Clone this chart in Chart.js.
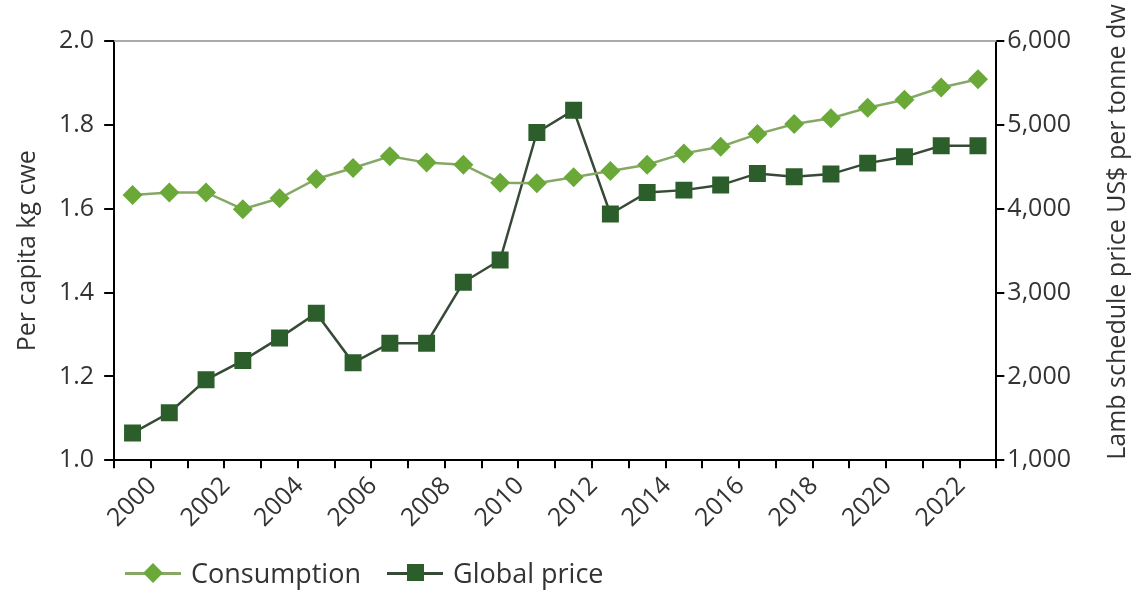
<!DOCTYPE html>
<html lang="en">
<head>
<meta charset="UTF-8">
<title>Lamb consumption and global price</title>
<style>
    body { margin: 0; background: #fff; font-family: "Open Sans", sans-serif; }
    .wrap { position: relative; width: 1134px; height: 593px; }
    #legend {
        position: absolute; left: 125px; top: 554px;
        display: flex; align-items: center;
        font-size: 27px; color: #333;
    }
    .item { display: flex; align-items: center; margin-right: 26px; }
    .icon { position: relative; width: 56px; height: 24px; margin-right: 10px; }
    .icon .ln { position: absolute; left: 0; right: 0; top: 11px; height: 3px; }
    .icon .mk { position: absolute; left: 50%; top: 50%; }
    .diamond { width: 14px; height: 14px; margin: -7px 0 0 -7px; transform: rotate(45deg); }
    .square { width: 17px; height: 17px; margin: -8.5px 0 0 -8.5px; }
</style>
<script src="https://cdn.jsdelivr.net/npm/chart.js"></script>
</head>
<body>
<div class="wrap">
    <canvas id="chart" width="1134" height="593"></canvas>
    <div id="legend"></div>
</div>
<script>
    const years = ['2000','2001','2002','2003','2004','2005','2006','2007','2008','2009','2010','2011',
                   '2012','2013','2014','2015','2016','2017','2018','2019','2020','2021','2022','2023'];
    // per capita kg cwe (left axis)
    const consumption = [1.633,1.639,1.639,1.599,1.625,1.671,1.697,1.725,1.710,1.705,1.662,1.661,
                         1.675,1.690,1.705,1.732,1.748,1.778,1.802,1.816,1.841,1.860,1.889,1.909];
    // lamb schedule price US$ per tonne dw (right axis)
    const globalPrice = [1325,1567,1960,2190,2460,2754,2163,2397,2397,3123,3389,4909,
                         5175,3937,4194,4222,4282,4421,4381,4413,4544,4619,4750,4750];

    const seriesNames = ['Consumption', 'Global price'];
    const leftTitle = 'Per capita kg cwe';
    const rightTitle = 'Lamb schedule price US$ per tonne dw';

    const lightGreen = '#6aa838';
    const lightLine = '#86a866';
    const darkGreen = '#2b5e2b';
    const darkLine = '#374a37';
    const textColor = '#333333';
    const font = { family: '"Open Sans", sans-serif', size: 25 };

    // top frame line + right title reading bottom-to-top
    const extras = {
        id: 'extras',
        afterDraw(chart) {
            const { ctx, chartArea } = chart;
            ctx.save();
            ctx.strokeStyle = '#aaaaaa';
            ctx.lineWidth = 2;
            ctx.beginPath();
            ctx.moveTo(chartArea.left, chartArea.top);
            ctx.lineTo(chartArea.right, chartArea.top);
            ctx.stroke();

            ctx.translate(1118, 232);
            ctx.rotate(-Math.PI / 2);
            ctx.fillStyle = textColor;
            ctx.font = '25px "Open Sans", sans-serif';
            ctx.textAlign = 'center';
            ctx.textBaseline = 'middle';
            ctx.fillText(rightTitle, 0, 0);
            ctx.restore();
        }
    };

    new Chart(document.getElementById('chart'), {
        type: 'line',
        data: {
            labels: years,
            datasets: [
                {
                    label: seriesNames[0],
                    data: consumption,
                    yAxisID: 'y',
                    borderColor: lightLine,
                    borderWidth: 2.5,
                    pointStyle: 'rectRot',
                    pointRadius: 10,
                    pointBackgroundColor: lightGreen,
                    pointBorderColor: lightGreen,
                    pointBorderWidth: 0,
                    tension: 0
                },
                {
                    label: seriesNames[1],
                    data: globalPrice,
                    yAxisID: 'y1',
                    borderColor: darkLine,
                    borderWidth: 2.5,
                    pointStyle: 'rect',
                    pointRadius: 12,
                    pointBackgroundColor: darkGreen,
                    pointBorderColor: darkGreen,
                    pointBorderWidth: 0,
                    tension: 0
                }
            ]
        },
        options: {
            responsive: false,
            animation: false,
            layout: { padding: { left: 13, right: 60, top: 41, bottom: 57 } },
            plugins: {
                legend: { display: false },
                tooltip: { enabled: false }
            },
            scales: {
                x: {
                    offset: true,
                    grid: { offset: true, drawOnChartArea: false, color: '#000', tickLength: 8, lineWidth: 2 },
                    border: { color: '#000', width: 2 },
                    ticks: {
                        autoSkip: false,
                        minRotation: 45,
                        maxRotation: 45,
                        labelOffset: 20,
                        color: textColor,
                        font: font,
                        callback: (v, i) => i % 2 === 0 ? years[i] : ''
                    }
                },
                y: {
                    position: 'left',
                    min: 1.0,
                    max: 2.0,
                    grid: { drawOnChartArea: false, color: '#000', tickLength: 10, lineWidth: 2 },
                    border: { color: '#000', width: 2 },
                    ticks: {
                        stepSize: 0.2,
                        padding: 10,
                        color: textColor,
                        font: font,
                        callback: v => v.toFixed(1)
                    },
                    title: { display: true, text: leftTitle, color: textColor, font: font, padding: { top: 0, bottom: 6 } }
                },
                y1: {
                    position: 'right',
                    min: 1000,
                    max: 6000,
                    grid: { drawOnChartArea: false, color: '#000', tickLength: 8, lineWidth: 2 },
                    border: { color: '#000', width: 2 },
                    ticks: {
                        stepSize: 1000,
                        padding: 3,
                        color: textColor,
                        font: font,
                        callback: v => v.toLocaleString('en-US')
                    }
                }
            }
        },
        plugins: [extras]
    });

    // legend: line with marker, then name
    const legend = document.getElementById('legend');
    [[seriesNames[0], lightLine, lightGreen, 'diamond'], [seriesNames[1], darkLine, darkGreen, 'square']]
        .forEach(([name, line, fill, shape]) => {
            const item = document.createElement('div');
            item.className = 'item';
            item.innerHTML = `<span class="icon"><span class="ln" style="background:${line}"></span>` +
                `<span class="mk ${shape}" style="background:${fill}"></span></span><span>${name}</span>`;
            legend.appendChild(item);
        });
</script>
</body>
</html>
